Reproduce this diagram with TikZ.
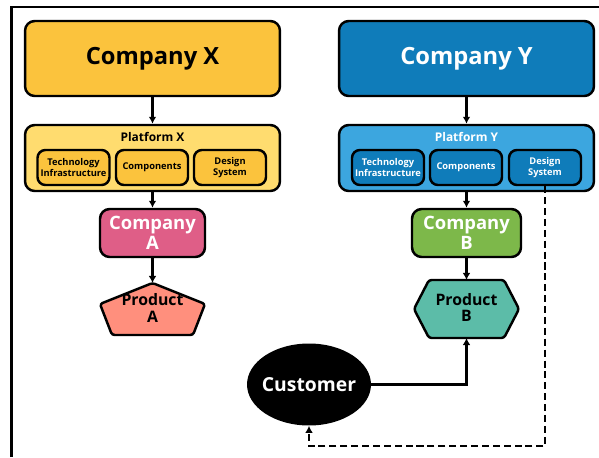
\documentclass[tikz,border=0pt]{standalone}
\usepackage{fontspec}
\setmainfont{Open Sans}
\usepackage{tikz}
\usetikzlibrary{arrows.meta,shapes.geometric}
\definecolor{NaranjaX}{HTML}{FBC33D}
\definecolor{AmarilloX}{HTML}{FFDC6F}
\definecolor{AzulY}{HTML}{0F7CBA}
\definecolor{CelesteY}{HTML}{3CA6DF}
\definecolor{RosaA}{HTML}{DF5E87}
\definecolor{SalmonA}{HTML}{FF8F7D}
\definecolor{VerdeB}{HTML}{7DB84A}
\definecolor{TurquesaB}{HTML}{5CBCA8}

\begin{document}
\begin{tikzpicture}[x=0.02cm,y=-0.02cm,font=\bfseries,>={Latex[length=4pt,width=4.4pt]},
    box/.style={draw,line width=1.4pt,rounded corners=5.5pt,inner sep=0pt,align=center},
    subbox/.style={box,rounded corners=4.5pt,minimum width=1.44cm,minimum height=0.7cm,
      font=\bfseries\fontsize{5.3}{5.8}\selectfont},
    company/.style={box,minimum width=5.1cm,minimum height=1.5cm,
      font=\bfseries\fontsize{13.5}{15}\selectfont},
    platform/.style={box,minimum width=5.1cm,minimum height=1.32cm},
    small/.style={box,minimum height=0.96cm,font=\bfseries\fontsize{10.5}{11.5}\selectfont},
    product/.style={draw,line width=1.4pt,rounded corners=1.5pt},
    link/.style={->,line width=1.3pt}]
  \useasboundingbox (0,0) rectangle (599,457);
  \draw[line width=1.3pt] (11.5,457) -- (11.5,7) -- (599,7);

  % Company X side
  \node[company,fill=NaranjaX] (compX) at (152.5,58.5) {Company X};
  \node[platform,fill=AmarilloX] (platX) at (152.5,158) {};
  \node[font=\bfseries\fontsize{6.8}{7}\selectfont] (platXlbl) at (152.5,137) {Platform X};
  \node[subbox,fill=NaranjaX] (techX) at (73.5,167.5) {Technology\\Infrastructure};
  \node[subbox,fill=NaranjaX] (compoX) at (152,167.5) {Components};
  \node[subbox,fill=NaranjaX] (designX) at (230,167.5) {Design\\System};
  \node[small,fill=RosaA,text=white,minimum width=2.1cm] (compA) at (152.5,233) {Company\\A};
  \draw[product,fill=SalmonA] (152.5,283) -- (205,304) -- (193,335) -- (112,335) -- (100,304) -- cycle;
  \coordinate (prodAtop) at (152.5,283);
  \node[align=center,font=\bfseries\fontsize{9}{9.5}\selectfont] (prodA) at (152.5,308) {Product\\A};

  % Company Y side
  \node[company,fill=AzulY,text=white] (compY) at (466.5,58.5) {Company Y};
  \node[platform,fill=CelesteY] (platY) at (466.5,158) {};
  \node[text=white,font=\bfseries\fontsize{6.8}{7}\selectfont] (platYlbl) at (466.5,137) {Platform Y};
  \node[subbox,fill=AzulY,text=white] (techY) at (388,167.5) {Technology\\Infrastructure};
  \node[subbox,fill=AzulY,text=white] (compoY) at (466,167.5) {Components};
  \node[subbox,fill=AzulY,text=white] (designY) at (545,167.5) {Design\\System};
  \node[small,fill=VerdeB,text=white,minimum width=2.18cm] (compB) at (466.5,233) {Company\\B};
  \draw[product,fill=TurquesaB] (429,280) -- (504,280) -- (519,309) -- (504,338) -- (429,338) -- (414,309) -- cycle;
  \coordinate (prodBtop) at (466.5,280);
  \coordinate (prodBbot) at (466.5,338);
  \node[align=center,font=\bfseries\fontsize{9}{9.5}\selectfont] (prodB) at (466.5,307.5) {Product\\B};

  % Customer
  \node[ellipse,fill=black,minimum width=2.48cm,minimum height=1.64cm,inner sep=0pt] (cust) at (309,384.5) {};
  \node[text=white,font=\bfseries\fontsize{11}{12}\selectfont] (custlbl) at (cust) {Customer};
  \coordinate (dashbase) at (309,446);

  % connectors
  \draw[link] (compX) -- (platX);
  \draw[link] (platX) -- (compA);
  \draw[link] (compA) -- (prodAtop);
  \draw[link] (compY) -- (platY);
  \draw[link] (platY) -- (compB);
  \draw[link] (compB) -- (prodBtop);
  \draw[link] (cust.east) -| (prodBbot);
  \draw[link,line width=1.4pt,dash pattern=on 4pt off 2.2pt] (designY.south) |- (dashbase) -- (cust.south);
\end{tikzpicture}
\end{document}
